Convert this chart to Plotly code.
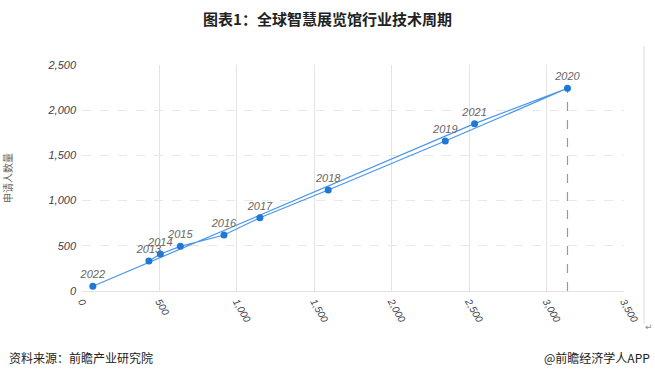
import plotly.graph_objects as go

years = ["2013", "2014", "2015", "2016", "2017", "2018", "2019", "2020", "2021", "2022"]
patents = [432, 506, 635, 917, 1149, 1590, 2346, 3135, 2535, 70]
applicants = [332, 409, 494, 619, 811, 1117, 1659, 2242, 1851, 52]
x_ticks = [0, 500, 1000, 1500, 2000, 2500, 3000, 3500]
y_ticks = [0, 500, 1000, 1500, 2000, 2500]

FONT = "Noto Sans CJK SC"
fig = go.Figure()
fig.add_trace(go.Scatter(
    x=patents, y=applicants, mode="lines+markers+text",
    text=years, textposition="top center",
    textfont=dict(family="Liberation Sans", size=11, color="#666666", style="italic"),
    line=dict(color="#4a97e8", width=1.2),
    marker=dict(color="#1f78d6", size=7),
    cliponaxis=False, hoverinfo="skip",
))
i20 = years.index("2020")
fig.add_shape(type="line", xref="x", yref="y", x0=patents[i20], x1=patents[i20],
              y0=0, y1=applicants[i20], line=dict(color="#999999", width=1.2, dash="dash"), layer="below")

fig.update_layout(
    width=655, height=378,
    margin=dict(l=82, r=31, t=65, b=87, autoexpand=False),
    paper_bgcolor="white", plot_bgcolor="white",
    showlegend=False,
    title=dict(text="<b>图表1：全球智慧展览馆行业技术周期</b>", x=0.5, xanchor="center",
               y=0.947, yanchor="middle", font=dict(family=FONT, size=15, color="#222222")),
    xaxis=dict(range=[0, 3500], tickvals=x_ticks, tickformat=",", tickangle=60,
               showgrid=True, gridcolor="#e3e3e3", gridwidth=1, zeroline=False,
               showline=True, linecolor="#e3e3e3", ticks="", automargin=False,
               tickfont=dict(family="Liberation Sans", size=10, color="#3d3d4d", style="italic")),
    yaxis=dict(range=[0, 2500], tickvals=y_ticks, tickformat=",", automargin=False,
               showgrid=True, gridcolor="#e8e8e8", griddash="dash", zeroline=False,
               showline=False, ticks="", ticklabelstandoff=5,
               title=dict(text="申请人数量", font=dict(family=FONT, size=10, color="#666666"), standoff=34),
               tickfont=dict(family="Liberation Sans", size=11, color="#3d3d4d", style="italic")),
    annotations=[
        dict(text="资料来源：前瞻产业研究院", xref="paper", yref="paper", x=-75/542, y=-66/226,
             xanchor="left", yanchor="middle", showarrow=False,
             font=dict(family=FONT, size=12, color="#222222")),
        dict(text="@前瞻经济学人APP", xref="paper", yref="paper", x=(652-82)/542, y=-66/226,
             xanchor="right", yanchor="middle", showarrow=False,
             font=dict(family=FONT, size=12, color="#222222")),
        dict(text="↵", xref="paper", yref="paper", x=(649-82)/542, y=-36/226,
             xanchor="center", yanchor="middle", showarrow=False,
             font=dict(family="DejaVu Sans", size=9, color="#888888")),
    ],
)
fig.add_shape(type="line", xref="paper", yref="paper", x0=(644-82)/542, x1=(644-82)/542,
              y0=-33/226, y1=245/226, line=dict(color="#dddddd", width=1))
fig.write_html("out.html", config={"displayModeBar": False},
               post_script="document.body.style.margin='0';document.body.style.overflow='hidden';")
